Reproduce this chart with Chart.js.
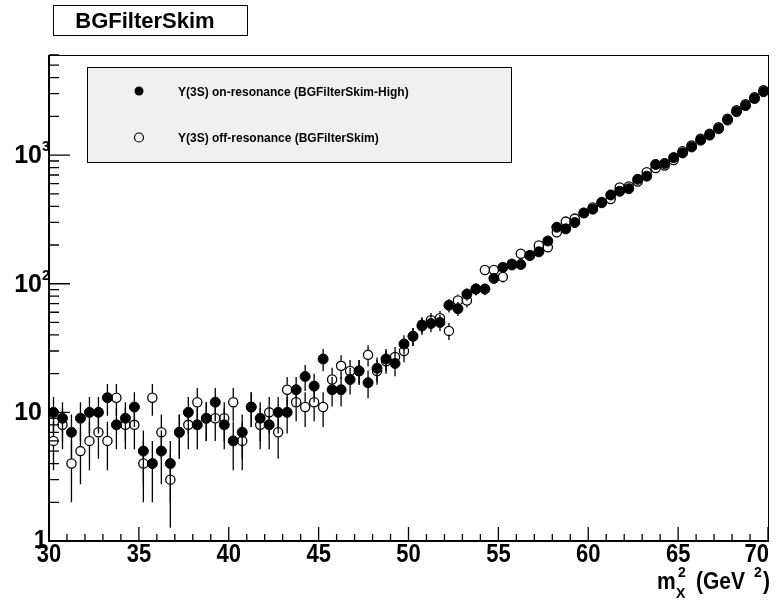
<!DOCTYPE html>
<html>
<head>
<meta charset="utf-8">
<title>BGFilterSkim</title>
<script src="https://cdn.jsdelivr.net/npm/chart.js@4.4.0/dist/chart.umd.min.js"></script>
<style>
  body { margin: 0; background: #fff; }
  #wrap { width: 779px; height: 601px; }
</style>
</head>
<body>
<div id="wrap"><canvas id="massChart" width="779" height="601"></canvas></div>
<script>
// bin centres of m_X^2 (GeV^2), 0.5 wide bins from 30 to 70
const binCenters = [
  30.25, 30.75, 31.25, 31.75, 32.25, 32.75, 33.25, 33.75, 34.25, 34.75,
  35.25, 35.75, 36.25, 36.75, 37.25, 37.75, 38.25, 38.75, 39.25, 39.75,
  40.25, 40.75, 41.25, 41.75, 42.25, 42.75, 43.25, 43.75, 44.25, 44.75,
  45.25, 45.75, 46.25, 46.75, 47.25, 47.75, 48.25, 48.75, 49.25, 49.75,
  50.25, 50.75, 51.25, 51.75, 52.25, 52.75, 53.25, 53.75, 54.25, 54.75,
  55.25, 55.75, 56.25, 56.75, 57.25, 57.75, 58.25, 58.75, 59.25, 59.75,
  60.25, 60.75, 61.25, 61.75, 62.25, 62.75, 63.25, 63.75, 64.25, 64.75,
  65.25, 65.75, 66.25, 66.75, 67.25, 67.75, 68.25, 68.75, 69.25, 69.75
];

// Y(3S) on-resonance (filled markers)
const onResonance = [
  10, 9, 7, 9, 10, 10, 13, 8, 9, 11,
  5, 4, 5, 4, 7, 10, 8, 9, 12, 8,
  6, 7, 11, 9, 8, 10, 10, 15, 19, 16,
  26, 15, 15, 18, 21, 17, 22, 26, 24, 34,
  39, 47, 49, 50, 68, 64, 83, 91, 91, 110,
  134, 140, 141, 166, 177, 215, 275, 267, 299, 355,
  380, 426, 490, 523, 548, 648, 686, 846, 860, 956,
  1040, 1157, 1305, 1430, 1605, 1872, 2175, 2425, 2750, 3110
];

// Y(3S) off-resonance (open markers)
const offResonance = [
  6, 8, 4, 5, 6, 7, 6, 13, 8, 8,
  4, 13, 7, 3, 7, 8, 12, 9, 9, 9,
  12, 6, 11, 8, 10, 7, 15, 12, 11, 12,
  11, 18, 23, 21, 21, 28, 21, 25, 27, 30,
  39, 48, 52, 54, 43, 74, 74, 91, 128, 128,
  113, 143, 171, 166, 198, 192, 251, 304, 321, 355,
  392, 431, 455, 561, 570, 624, 737, 792, 830, 915,
  1070, 1190, 1340, 1465, 1645, 1920, 2230, 2490, 2820, 3190
];

const xTickLabels = [30, 35, 40, 45, 50, 55, 60, 65, 70];
const yDecades = [1, 10, 100, 1000];
const seriesNames = [
  "Y(3S) on-resonance (BGFilterSkim-High)",
  "Y(3S) off-resonance (BGFilterSkim)"
];
const plotTitle = "BGFilterSkim";

const FONT = '"Liberation Sans", Arial, Helvetica, sans-serif';
const MARK_R = 5;

function toPoints(vals) {
  return binCenters.map((x, i) => ({ x: x, y: vals[i] }));
}

function txt(ctx, s, x, y, size, align, sy) {
  ctx.save();
  ctx.font = "bold " + size + "px " + FONT;
  ctx.textAlign = align || "left";
  ctx.textBaseline = "alphabetic";
  ctx.fillStyle = "#000";
  ctx.translate(x, y);
  ctx.scale(1, sy || 1);
  ctx.fillText(s, 0, 0);
  ctx.restore();
}

// ROOT-like frame, inward ticks, labels, error bars and legend
const rootStyle = {
  id: "rootStyle",
  beforeDatasetsDraw(chart) {
    const ctx = chart.ctx;
    const xs = chart.scales.x, ys = chart.scales.y;
    const area = chart.chartArea;
    ctx.save();
    ctx.beginPath();
    ctx.rect(area.left, area.top, area.right - area.left, area.bottom - area.top);
    ctx.clip();
    ctx.strokeStyle = "#000";
    ctx.lineWidth = 1.3;
    [onResonance, offResonance].forEach(vals => {
      vals.forEach((v, i) => {
        const err = Math.sqrt(v);
        const px = xs.getPixelForValue(binCenters[i]);
        const py = ys.getPixelForValue(v);
        const top = ys.getPixelForValue(v + err);
        const bot = v - err > 1 ? ys.getPixelForValue(v - err) : area.bottom;
        ctx.beginPath();
        if (py - MARK_R > top) { ctx.moveTo(px, top); ctx.lineTo(px, py - MARK_R); }
        if (bot > py + MARK_R) { ctx.moveTo(px, py + MARK_R); ctx.lineTo(px, bot); }
        ctx.stroke();
      });
    });
    ctx.restore();
  },
  afterDraw(chart) {
    const ctx = chart.ctx;
    const xs = chart.scales.x, ys = chart.scales.y;
    const a = chart.chartArea;
    ctx.save();
    ctx.strokeStyle = "#000";

    // frame
    ctx.lineWidth = 1;
    ctx.strokeRect(a.left + 0.5, a.top + 0.5, a.right - a.left, a.bottom - a.top);
    ctx.lineWidth = 2;
    ctx.beginPath();
    ctx.moveTo(a.left, a.top); ctx.lineTo(a.left, a.bottom); ctx.lineTo(a.right, a.bottom);
    ctx.stroke();

    // x ticks: major every 5, minor every 1
    ctx.lineWidth = 1.3;
    ctx.beginPath();
    for (let v = 30; v <= 70; v += 1) {
      const px = xs.getPixelForValue(v);
      const len = v % 5 === 0 ? 14 : 7;
      ctx.moveTo(px, a.bottom); ctx.lineTo(px, a.bottom - len);
    }
    // y ticks: major at decades, minor at 2..9
    for (let d = 1; d <= 1000; d *= 10) {
      for (let m = 1; m <= 9; m++) {
        const v = d * m;
        if (v > ys.max) break;
        const py = ys.getPixelForValue(v);
        const len = m === 1 ? 21 : 10;
        ctx.moveTo(a.left, py); ctx.lineTo(a.left + len, py);
      }
    }
    ctx.stroke();

    // x tick labels
    xTickLabels.forEach((v, i) => {
      const px = xs.getPixelForValue(v);
      const last = i === xTickLabels.length - 1;
      txt(ctx, String(v), last ? px + 1 : px, a.bottom + 21, 22, last ? "right" : "center", 1.15);
    });

    // y tick labels
    yDecades.forEach(v => {
      const py = ys.getPixelForValue(v);
      if (v === 1) {
        txt(ctx, "1", 47, py + 7, 24, "right", 1.1);
      } else {
        txt(ctx, "10", 42, py + 8, 25, "right", 1.05);
        if (v > 10) txt(ctx, String(Math.round(Math.log10(v))), 42, py - 4, 14, "left", 1.1);
      }
    });

    // axis title  m_X^2 (GeV^2)
    txt(ctx, "m", 657, 589, 21, "left", 1.1);
    txt(ctx, "2", 678, 577, 14, "left", 1.1);
    txt(ctx, "X", 676, 598, 14, "left", 1.1);
    txt(ctx, "(GeV", 696, 589, 21, "left", 1.1);
    txt(ctx, "2", 754, 577, 14, "left", 1.1);
    txt(ctx, ")", 763, 589, 21, "left", 1.1);

    // title box
    ctx.fillStyle = "#fff";
    ctx.fillRect(53, 5, 194, 30);
    ctx.lineWidth = 1;
    ctx.strokeRect(53.5, 5.5, 194, 30);
    txt(ctx, plotTitle, 145, 28, 22, "center");

    // legend box
    ctx.fillStyle = "#f0f0f0";
    ctx.fillRect(87, 67, 424, 95);
    ctx.strokeRect(87.5, 67.5, 424, 95);
    const rows = [91, 137.5];
    rows.forEach((ry, i) => {
      ctx.beginPath();
      ctx.arc(139, ry, 4.5, 0, Math.PI * 2);
      if (i === 0) { ctx.fillStyle = "#000"; ctx.fill(); }
      else { ctx.lineWidth = 1.2; ctx.stroke(); }
      txt(ctx, seriesNames[i], 178, ry + 4.5, 12, "left");
    });
    ctx.restore();
  }
};

const chart = new Chart(document.getElementById("massChart"), {
  type: "scatter",
  data: {
    datasets: [
      {
        label: seriesNames[0],
        data: toPoints(onResonance),
        pointRadius: MARK_R,
        pointBackgroundColor: "#000",
        pointBorderColor: "#000",
        pointBorderWidth: 1
      },
      {
        label: seriesNames[1],
        data: toPoints(offResonance),
        pointRadius: MARK_R - 0.4,
        pointBackgroundColor: "rgba(0,0,0,0)",
        pointBorderColor: "#000",
        pointBorderWidth: 1.3
      }
    ]
  },
  options: {
    responsive: false,
    animation: false,
    events: [],
    layout: { padding: { left: 0, top: 55, right: 11, bottom: 0 } },
    plugins: { legend: { display: false }, tooltip: { enabled: false } },
    scales: {
      x: {
        type: "linear", min: 30, max: 70,
        grid: { display: false }, border: { display: false },
        ticks: { display: false },
        afterFit: s => { s.height = 60; }
      },
      y: {
        type: "logarithmic", min: 1, max: 6000,
        grid: { display: false }, border: { display: false },
        ticks: { display: false },
        afterFit: s => { s.width = 49; }
      }
    }
  },
  plugins: [rootStyle]
});
</script>
</body>
</html>
